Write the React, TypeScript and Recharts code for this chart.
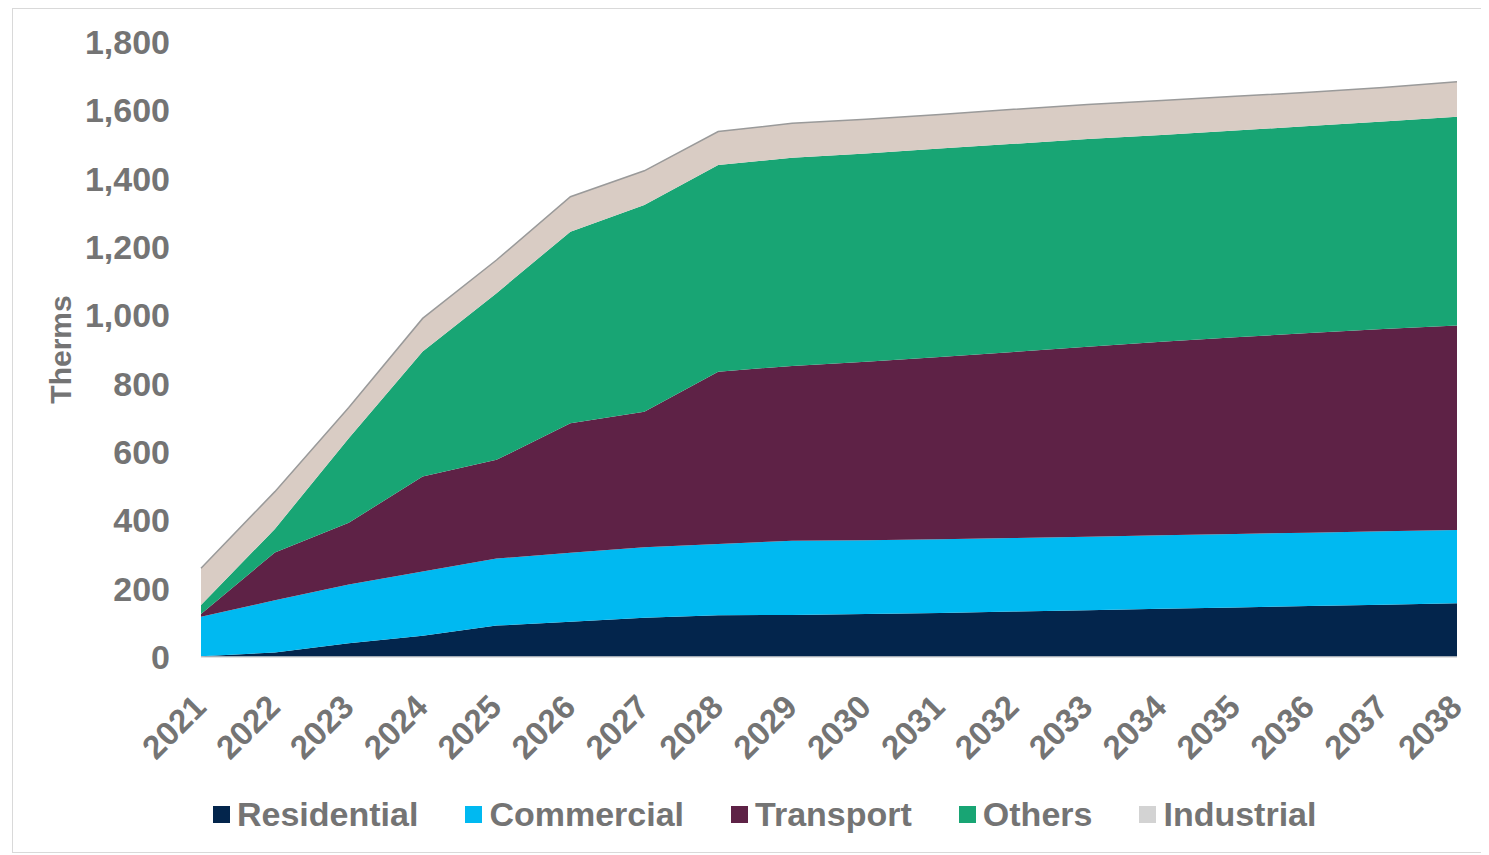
import React from 'react';
import { AreaChart, Area, XAxis, YAxis, Legend } from 'recharts';

const years = ['2021', '2022', '2023', '2024', '2025', '2026', '2027', '2028', '2029', '2030', '2031', '2032', '2033', '2034', '2035', '2036', '2037', '2038'];
const residential = [2, 13, 40, 62, 92, 103, 115, 122, 123, 126, 129, 133, 137, 141, 145, 149, 153, 157];
const commercial = [116, 153, 172, 188, 196, 202, 206, 209, 217, 216, 216, 215, 215, 215, 215, 215, 215, 215];
const transport = [8, 140, 181, 278, 289, 379, 397, 504, 512, 522, 533, 545, 556, 567, 576, 584, 592, 598];
const others = [26, 69, 247, 366, 488, 561, 605, 605, 609, 610, 610, 609, 608, 605, 605, 606, 607, 611];
const industrial = [108, 109, 90, 97, 97, 102, 100, 98, 101, 100, 100, 101, 101, 101, 100, 99, 100, 103];
const yTicks = [0, 200, 400, 600, 800, 1000, 1200, 1400, 1600, 1800];

const seriesNames = ['Residential', 'Commercial', 'Transport', 'Others', 'Industrial'];
const seriesColors = ['#03254C', '#00B9F1', '#5E2246', '#18A574', '#D9CCC4'];
const legendColors = ['#03254C', '#00B9F1', '#5E2246', '#18A574', '#D3D3D3'];
const seriesValues = [residential, commercial, transport, others, industrial];

const data = years.map((year, i) => {
  const row: Record<string, string | number> = { year };
  seriesNames.forEach((name, k) => {
    row[name] = seriesValues[k][i];
  });
  return row;
});

const FONT = '"Liberation Sans", Arial, sans-serif';
const GREY = '#747474';

const XTick = (props: any) => {
  const { x, y, payload } = props;
  return (
    <g transform={`translate(${x + 7},${y + 44})`}>
      <text
        textAnchor="end"
        transform="rotate(-45)"
        fontSize={33}
        fontWeight={700}
        fontFamily={FONT}
        fill={GREY}
      >
        {payload.value}
      </text>
    </g>
  );
};

const YLabel = (props: any) => {
  const vb = props.viewBox || { x: 0, y: 0, width: 0, height: 0 };
  const cx = vb.x + 47;
  const cy = vb.y + vb.height / 2;
  return (
    <text
      x={cx}
      y={cy}
      transform={`rotate(-90, ${cx}, ${cy})`}
      textAnchor="middle"
      dominantBaseline="central"
      fontSize={30}
      fontWeight={700}
      fontFamily={FONT}
      fill={GREY}
    >
      Therms
    </text>
  );
};

const LegendContent = () => (
  <div
    style={{
      display: 'flex',
      alignItems: 'center',
      height: 50,
      paddingLeft: 200,
      fontFamily: FONT,
      fontWeight: 700,
      fontSize: 34,
      color: GREY,
      whiteSpace: 'nowrap',
    }}
  >
    {seriesNames.map((name, i) => (
      <div
        key={name}
        style={{ display: 'flex', alignItems: 'center', marginRight: i < seriesNames.length - 1 ? 47 : 0 }}
      >
        <span style={{ display: 'inline-block', width: 17, height: 17, background: legendColors[i], marginRight: 7 }} />
        <span>{name}</span>
      </div>
    ))}
  </div>
);

export default function App() {
  return (
    <div style={{ marginLeft: 4, width: 1468, height: 843, border: '1px solid #d9d9d9', background: '#fff' }}>
      <AreaChart
        width={1468}
        height={842}
        data={data}
        margin={{ top: 33, right: 24, left: 0, bottom: 12 }}
      >
        <XAxis
          dataKey="year"
          interval={0}
          tickLine={false}
          axisLine={{ stroke: '#d9d9d9', strokeWidth: 1.5 }}
          tick={<XTick />}
          height={132}
        />
        <YAxis
          domain={[0, 1800]}
          ticks={yTicks}
          interval={0}
          width={188}
          axisLine={false}
          tickLine={false}
          tickMargin={25}
          tickFormatter={(v: number) => v.toLocaleString('en-US')}
          tick={{ fontSize: 34, fontWeight: 700, fontFamily: FONT, fill: GREY }}
          label={<YLabel />}
        />
        <Legend verticalAlign="bottom" height={50} content={<LegendContent />} />
        {seriesNames.map((name, i) => (
          <Area
            key={name}
            type="linear"
            dataKey={name}
            stackId="1"
            fill={seriesColors[i]}
            fillOpacity={1}
            stroke={name === 'Industrial' ? '#9a9a9a' : 'none'}
            strokeWidth={name === 'Industrial' ? 1.5 : 0}
            isAnimationActive={false}
            dot={false}
            activeDot={false}
          />
        ))}
      </AreaChart>
    </div>
  );
}
